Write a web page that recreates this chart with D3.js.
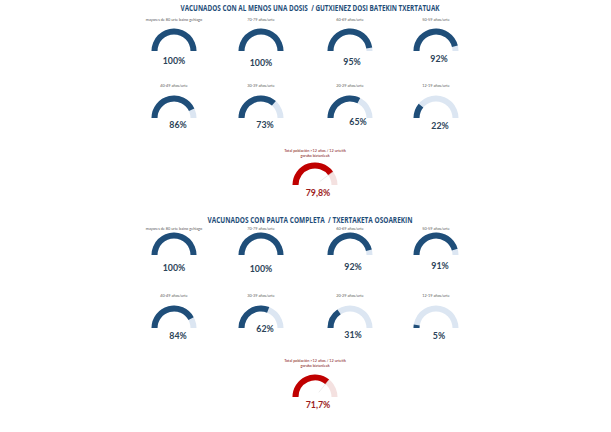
<!DOCTYPE html>
<html><head><meta charset="utf-8">
<script src="https://cdn.jsdelivr.net/npm/d3@7"></script>
<style>html,body{margin:0;padding:0;background:#fff;}svg{display:block;}</style>
</head><body>
<script>
// ---- data ----
const sectionTitles = ["VACUNADOS CON AL MENOS UNA DOSIS  / GUTXIENEZ DOSI BATEKIN TXERTATUAK",
                       "VACUNADOS CON PAUTA COMPLETA  / TXERTAKETA OSOAREKIN"];
const ageGroups = ["mayores de 80 urte baino gehiago","70-79 años/urte","60-69 años/urte","50-59 años/urte",
                   "40-49 años/urte","30-39 años/urte","20-29 años/urte","12-19 años/urte"];
const dosisValues = [100,100,95,92,86,73,65,22];
const dosisLabels = ["100%","100%","95%","92%","86%","73%","65%","22%"];
const pautaValues = [100,100,92,91,84,62,31,5];
const pautaLabels = ["100%","100%","92%","91%","84%","62%","31%","5%"];
const totalLines = ["Total población >12 años / 12 urtetik","gorako biztanleak"];
const totalValues = [79.8,71.7];
const totalLabels = ["79,8%","71,7%"];

// ---- layout ----
const W=611,H=432;
const colX=[174,261,350,436];
const sections=[{titleY:11,titleW:259,rows:[51,118],totalY:185,labelRowY:[21,87],totalLabelY:152},
                {titleY:223,titleW:205,rows:[255,328],totalY:397,labelRowY:[230,297],totalLabelY:362}];
const valueOffsets=[
  [[0,13],[0,15],[2,14],[3,11],[4,10],[4,10],[8,7],[4,11]],
  [[0,16],[0,17],[3,15],[4,14],[4,11],[4,4],[3,10],[3,11]]
];
const R=22.5, r=16.5;

const svg=d3.select("body").append("svg").attr("width",W).attr("height",H);
const ang=d3.scaleLinear().domain([0,100]).range([-Math.PI/2,Math.PI/2]);
const arc=d3.arc().innerRadius(r).outerRadius(R);
const font="Lato, 'Open Sans', sans-serif";
const titleFont="'Liberation Sans Narrow', 'Open Sans', sans-serif";

function gauge(cx,cy,v,fg,bg){
  const g=svg.append("g").attr("transform",`translate(${cx},${cy})`);
  g.append("path").attr("d",arc({startAngle:ang(0),endAngle:ang(100)})).attr("fill",bg);
  g.append("path").attr("d",arc({startAngle:ang(0),endAngle:ang(v)})).attr("fill",fg);
  return g;
}

const sets=[[dosisValues,dosisLabels],[pautaValues,pautaLabels]];
sections.forEach((s,si)=>{
  svg.append("text").attr("x",310-s.titleW/2).attr("y",s.titleY)
    .attr("font-family",titleFont).attr("font-weight","bold").attr("font-size",8.2)
    .attr("textLength",s.titleW).attr("lengthAdjust","spacingAndGlyphs")
    .attr("fill","#1f4e79").style("white-space","pre").text(sectionTitles[si]);
  const [vals,labs]=sets[si];
  vals.forEach((v,i)=>{
    const row=Math.floor(i/4), col=i%4;
    const cx=colX[col], cy=s.rows[row];
    svg.append("text").attr("x",cx).attr("y",s.labelRowY[row]).attr("text-anchor","middle")
      .attr("font-family",font).attr("font-size",3.8).attr("fill","#595959").text(ageGroups[i]);
    gauge(cx,cy,v,"#1f4e79","#dce6f2");
    const o=valueOffsets[si][i];
    svg.append("text").attr("x",cx+o[0]).attr("y",cy+o[1]).attr("text-anchor","middle")
      .attr("font-family",font).attr("font-weight","bold").attr("font-size",8.8)
      .attr("fill","#2b4358").text(labs[i]);
  });
  // total gauge
  const tcx=315, tcy=s.totalY;
  totalLines.forEach((t,k)=>{
    svg.append("text").attr("x",tcx).attr("y",s.totalLabelY+k*5).attr("text-anchor","middle")
      .attr("font-family",font).attr("font-size",3.8).attr("fill","#7f1010").text(t);
  });
  const g=gauge(tcx,tcy,totalValues[si],"#c00000","#f4e1e0");
  const a=ang(totalValues[si]);
  g.append("line").attr("x1",R*Math.sin(a)).attr("y1",-R*Math.cos(a))
    .attr("x2",6*Math.sin(a)).attr("y2",-6*Math.cos(a))
    .attr("stroke","#d9d9d9").attr("stroke-width",0.5);
  svg.append("text").attr("x",tcx+3).attr("y",tcy+11).attr("text-anchor","middle")
    .attr("font-family",font).attr("font-weight","bold").attr("font-size",8.8)
    .attr("fill","#9c1c1c").text(totalLabels[si]);
});
</script>
</body></html>
